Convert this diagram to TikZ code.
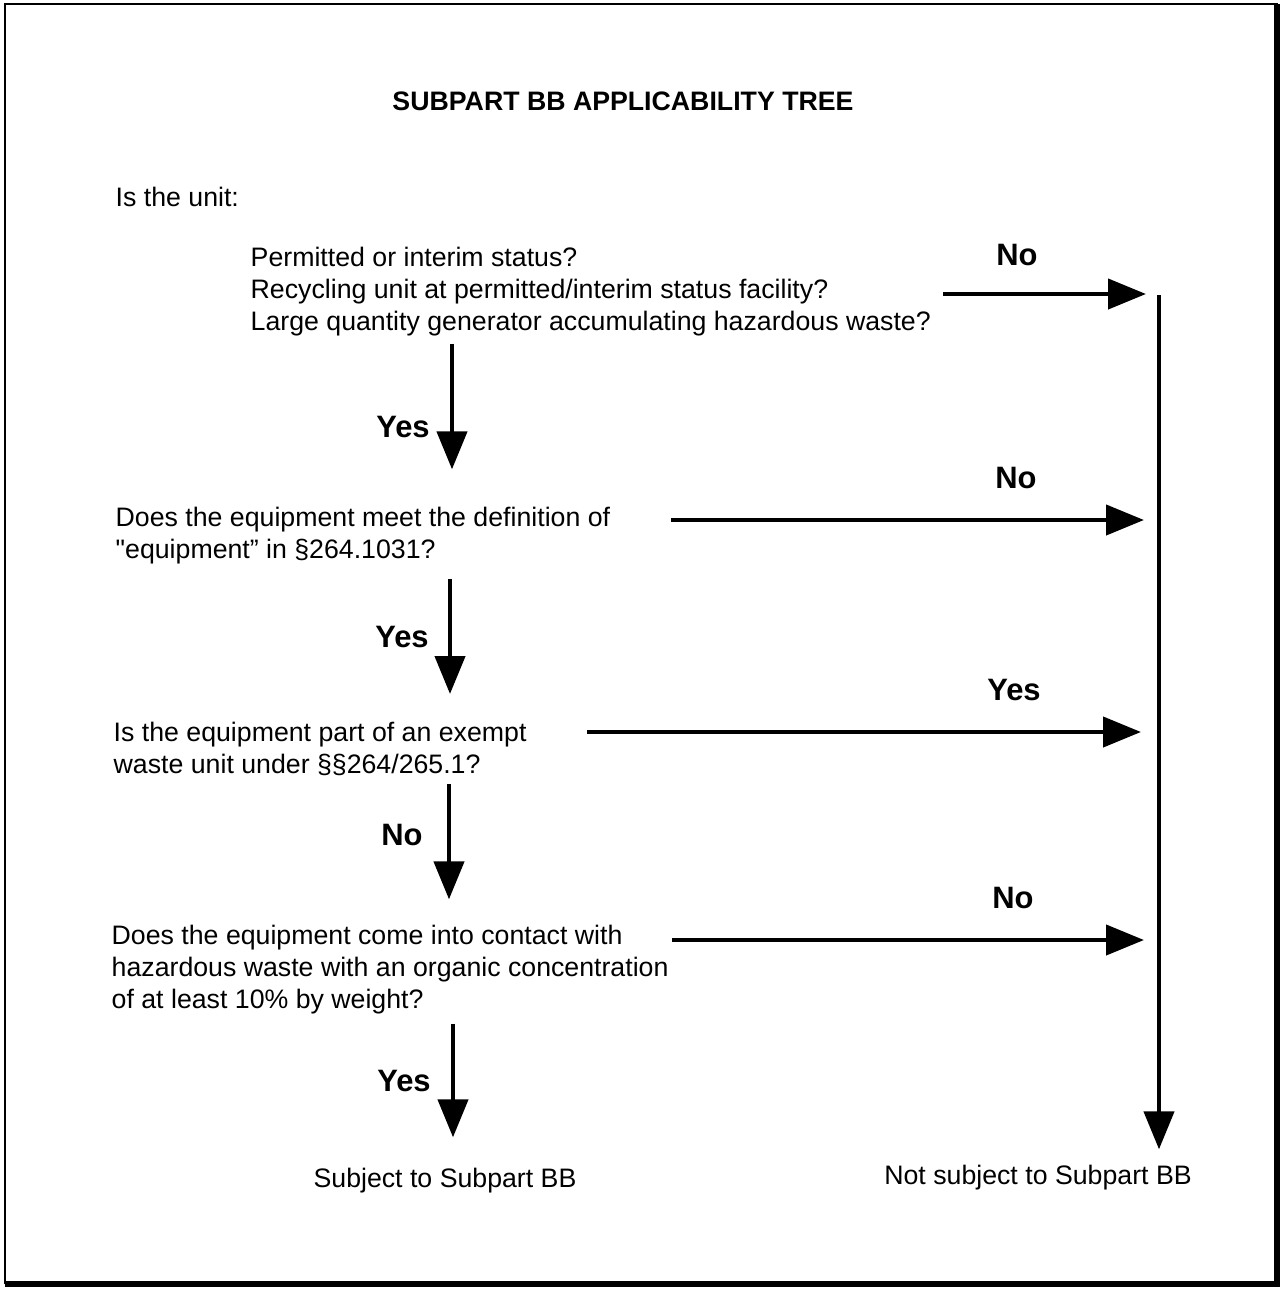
\documentclass[tikz,border=0pt]{standalone}
\usepackage{fontspec}
\setmainfont{Liberation Sans}
\usetikzlibrary{arrows.meta,positioning}
\tikzset{
	txt/.style={anchor=west, align=left, inner sep=0pt, font=\fontsize{7.6}{9.1}\selectfont},
	lbl/.style={inner sep=0pt, font=\fontsize{8.8}{10}\selectfont\bfseries},
	flow/.style={line width=1.3pt, -{Triangle[length=10.8pt,width=8.5pt]}},
}
\begin{document}
\begin{tikzpicture}[x=0.1mm,y=-0.1mm]
	\useasboundingbox (0,0) rectangle (1283,1289);
	% frame
	\draw[line width=0.8pt] (5,4) rectangle (1277,1283);
	\draw[line width=1.6pt] (1277,4) -- (1277,1284) -- (5,1284);

	\node[txt, anchor=center, font=\fontsize{7.6}{9.1}\selectfont\bfseries] (title) at (623,101) {SUBPART BB APPLICABILITY TREE};
	\node[txt] (intro) at (115,197) {Is the unit:};

	% questions
	\node[txt] (q1) at (250,292) {Permitted or interim status?\\Recycling unit at permitted/interim status facility?\\Large quantity generator accumulating hazardous waste?};
	\node[txt] (q2) at (115,536) {Does the equipment meet the definition of\\\textquotedbl equipment” in §264.1031?};
	\node[txt] (q3) at (113,748.5) {Is the equipment part of an exempt\\waste unit under §§264/265.1?};
	\node[txt] (q4) at (111,970) {Does the equipment come into contact with\\hazardous waste with an organic concentration\\of at least 10\% by weight?};

	\node[txt, anchor=center] (sub) at (445,1181) {Subject to Subpart BB};
	\node[txt, anchor=center] (nsub) at (1038,1178) {Not subject to Subpart BB};

	% right hand trunk
	\coordinate (top) at (1159,295);
	\draw[flow, shorten >=1.55mm] (top) -- (top |- nsub.north);

	% the "no" branches
	\path ([shift={(1.2mm,-0.2mm)}]q1.east) coordinate (s1);
	\path ([shift={(6mm,1.6mm)}]q2.east) coordinate (s2);
	\path ([shift={(6mm,1.65mm)}]q3.east) coordinate (s3);
	\path ([shift={(0.3mm,3.0mm)}]q4.east) coordinate (s4);
	\draw[flow, shorten >=1.3mm] (s1) -- (s1 -| top);
	\draw[flow, shorten >=1.5mm] (s2) -- (s2 -| top);
	\draw[flow, shorten >=1.8mm] (s3) -- (s3 -| top);
	\draw[flow, shorten >=1.5mm] (s4) -- (s4 -| top);
	\node[lbl] (no1) at (1017,255) {No};
	\node[lbl] (no2) at (1016,478) {No};
	\node[lbl] (yes3) at (1014,690) {Yes};
	\node[lbl] (no4) at (1013,898) {No};

	% the "yes" branches
	\draw[flow, shorten <=0.65mm, shorten >=3.75mm] ([xshift=0.7mm]q1.south -| sub) -- ([xshift=0.7mm]q2.north -| sub);
	\draw[flow, shorten <=1.35mm, shorten >=2.7mm] ([xshift=0.5mm]q2.south -| sub) -- ([xshift=0.5mm]q3.north -| sub);
	\draw[flow, shorten <=0.8mm, shorten >=2.55mm] ([xshift=0.4mm]q3.south -| sub) -- ([xshift=0.4mm]q4.north -| sub);
	\draw[flow, shorten <=0.85mm, shorten >=3.05mm] ([xshift=0.8mm]q4.south -| sub) -- ([xshift=0.8mm]sub.north);
	\node[lbl] (yes1) at (403,427) {Yes};
	\node[lbl] (yes2) at (402,637) {Yes};
	\node[lbl] (no3) at (402,835) {No};
	\node[lbl] (yes4) at (404,1081) {Yes};
\end{tikzpicture}
\end{document}
